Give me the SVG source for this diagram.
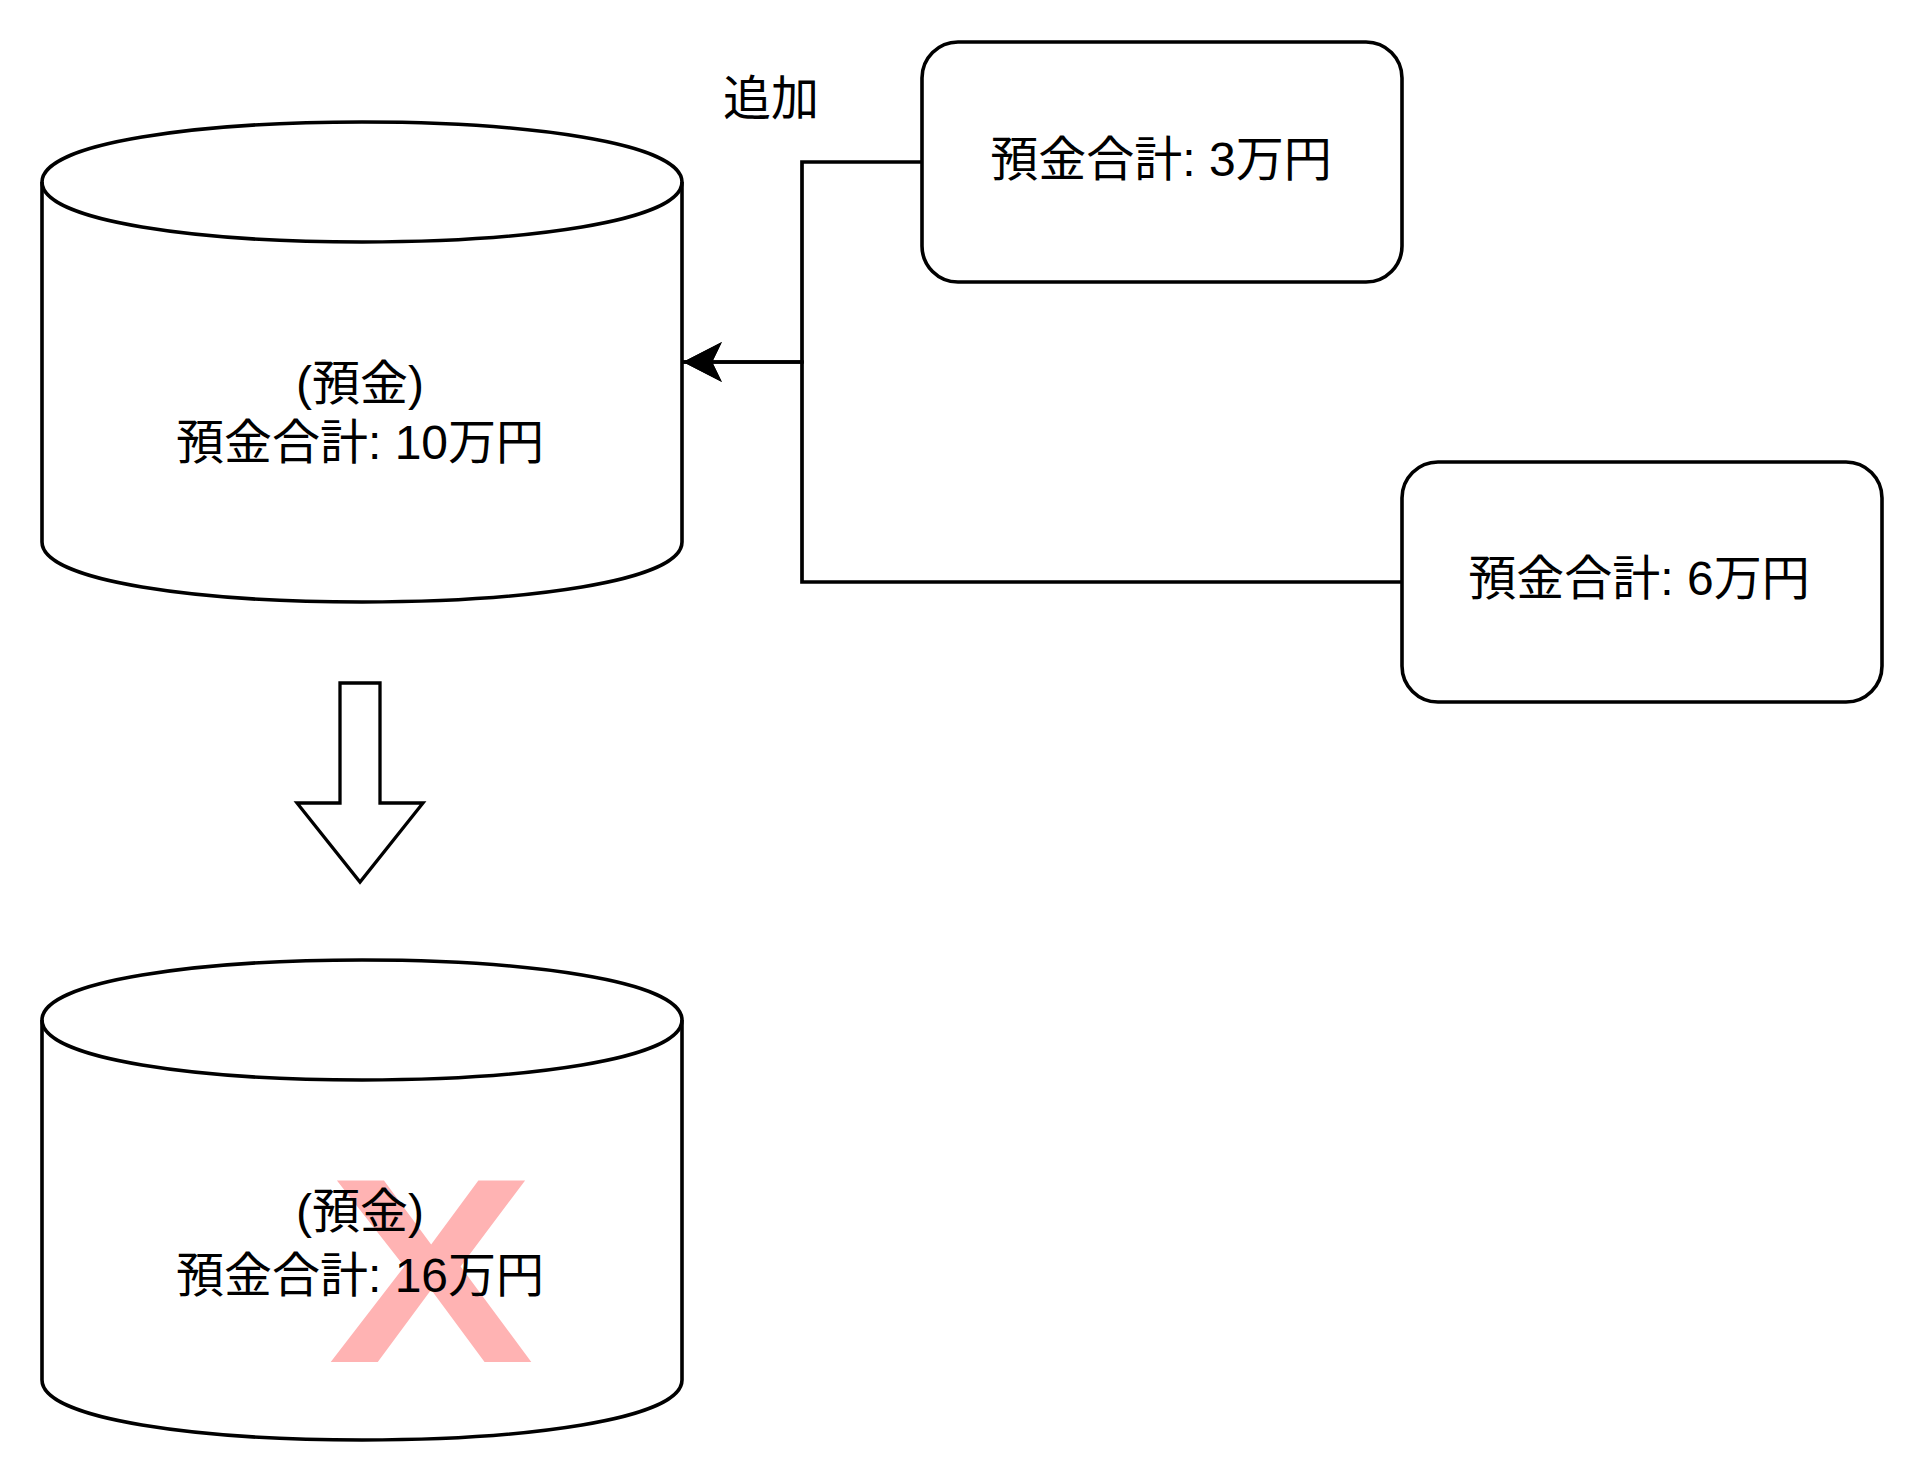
<svg xmlns="http://www.w3.org/2000/svg" width="1924" height="1484" viewBox="0 0 1924 1484">
  <style>
    .shape { fill: #ffffff; stroke: #000000; stroke-width: 3.6; stroke-linejoin: miter; }
    .fg { fill: none; stroke: #000000; stroke-width: 3.6; }
    .edge { fill: none; stroke: #000000; stroke-width: 3.7; stroke-linejoin: miter; }
    .label { font-family: "Liberation Sans", "Noto Sans CJK JP", sans-serif; font-size: 48px; fill: #000000; text-anchor: middle; }
    .cross { font-family: "Liberation Sans", sans-serif; font-weight: bold; font-size: 264px; fill: #ffb3b3; text-anchor: middle; }
  </style>
  <defs>
    <marker id="arrow" markerUnits="userSpaceOnUse" markerWidth="40" markerHeight="40" viewBox="0 0 36 37" refX="36" refY="18.5" orient="auto">
      <path d="M0,0 L36,18.5 L0,37 L9,18.5 Z" fill="#000000"/>
    </marker>
  </defs>
  <rect width="1924" height="1484" fill="#ffffff"/>

  <g id="db-before">
    <path class="shape" d="M42,182 C42,102 682,102 682,182 L682,542 C682,622 42,622 42,542 Z"/>
    <path class="fg" d="M42,182 C42,262 682,262 682,182"/>
    <text class="label" x="360" y="400">(預金)</text>
    <text class="label" x="360" y="459">預金合計: 10万円</text>
  </g>

  <g id="deposit-3">
    <rect class="shape" x="922" y="42" width="480" height="240" rx="36" ry="36"/>
    <text class="label" x="1161" y="176">預金合計: 3万円</text>
  </g>

  <g id="deposit-6">
    <rect class="shape" x="1402" y="462" width="480" height="240" rx="36" ry="36"/>
    <text class="label" x="1639" y="595">預金合計: 6万円</text>
  </g>

  <g id="label-add">
    <text class="label" x="771" y="115">追加</text>
  </g>

  <g id="connectors">
    <path class="edge" d="M922,162 H802 V362 H683" marker-end="url(#arrow)"/>
    <path class="edge" d="M1402,582 H802 V362 H683" marker-end="url(#arrow)"/>
  </g>

  <g id="flow-arrow">
    <polygon class="shape" style="stroke-width:3.3" points="340,683 380,683 380,803 423,803 360,882 297,803 340,803"/>
  </g>

  <g id="db-after">
    <path class="shape" d="M42,1020 C42,940 682,940 682,1020 L682,1380 C682,1460 42,1460 42,1380 Z"/>
    <path class="fg" d="M42,1020 C42,1100 682,1100 682,1020"/>
    <g id="x-mark">
      <text class="cross" transform="translate(431,1362) scale(1.17,1)" x="0" y="0">X</text>
    </g>
    <text class="label" x="360" y="1228">(預金)</text>
    <text class="label" x="360" y="1292">預金合計: 16万円</text>
  </g>
</svg>
